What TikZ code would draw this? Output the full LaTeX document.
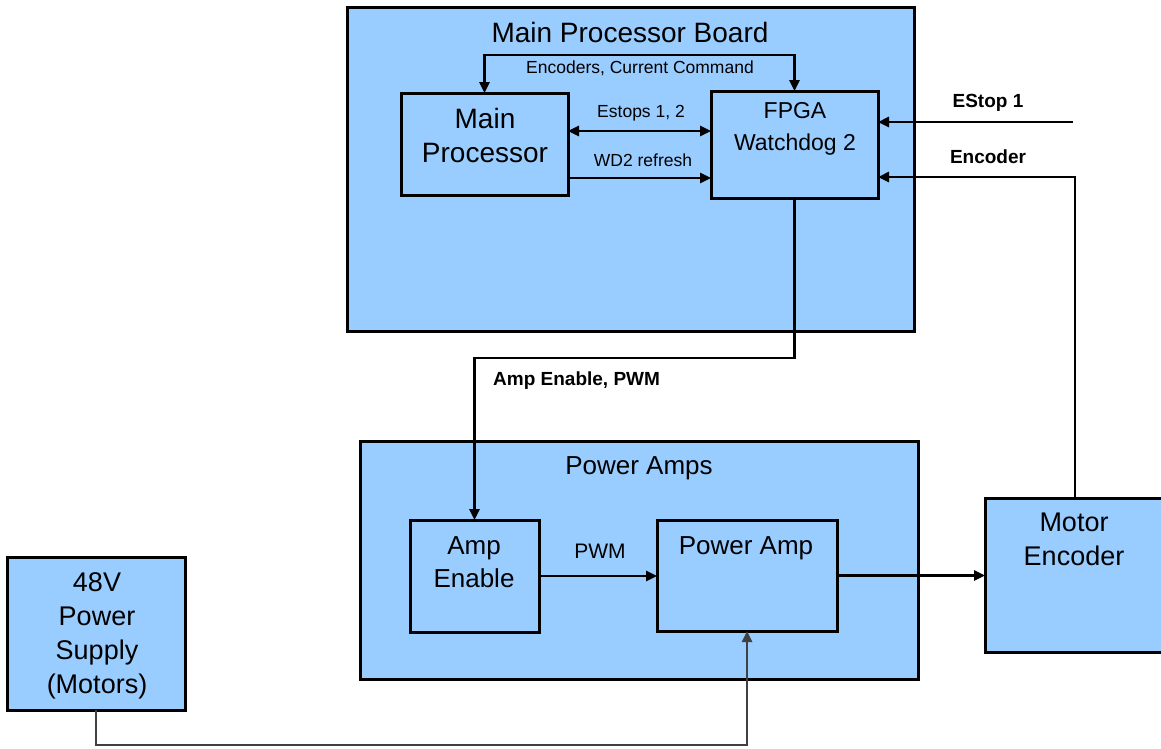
\documentclass[tikz,border=0pt]{standalone}
\usepackage{fontspec}
\setmainfont{Liberation Sans}
\usetikzlibrary{arrows.meta}
\definecolor{boxblue}{RGB}{153,204,255}
\tikzset{
  box/.style={draw=black, fill=boxblue, line width=3pt, rectangle, inner sep=0pt, outer sep=0pt, anchor=north west},
  txt/.style={inner sep=0pt, align=center, anchor=north},
  arr/.style={line width=2.5pt, -{Triangle[length=11pt,width=10pt]}},
  darr/.style={line width=2.5pt, {Triangle[length=11pt,width=10pt]}-{Triangle[length=11pt,width=10pt]}},
  lbl/.style={inner sep=0pt, anchor=base},
}
\newcommand{\fsz}[2]{\fontsize{#1}{#2}\selectfont}
\begin{document}
\begin{tikzpicture}[x=1pt,y=-1pt]
\useasboundingbox (0,0) rectangle (1161,748);
\clip (0,0) rectangle (1161,748);
% boxes
\node[box, minimum width=567pt, minimum height=324pt] (mpb) at (347,7) {};
\node[box, minimum width=167pt, minimum height=102pt] (mp) at (401,93) {};
\node[box, minimum width=167pt, minimum height=107pt] (fpga) at (711,91) {};
\node[box, minimum width=558pt, minimum height=238pt] (pab) at (360,441) {};
\node[box, minimum width=129pt, minimum height=112pt] (ae) at (410,520) {};
\node[box, minimum width=180pt, minimum height=111pt] (pa) at (657,520) {};
\node[box, minimum width=180pt, minimum height=154pt] (me) at (985,498) {};
\node[box, minimum width=178pt, minimum height=153pt] (ps) at (7,557) {};
% box texts
\node[txt, font=\fsz{28}{34}] (tmpb) at (630,22) {Main Processor Board};
\node[txt, font=\fsz{28}{34}] (tmp) at (485,108) {Main\\Processor};
\node[txt, font=\fsz{23}{32}] (tfpga) at (795,102) {FPGA\\Watchdog 2};
\node[txt, font=\fsz{26}{34}] (tpab) at (639,456) {Power Amps};
\node[txt, font=\fsz{26}{33}] (tae) at (474,536) {Amp\\Enable};
\node[txt, font=\fsz{26}{34}] (tpa) at (746,536) {Power Amp};
\node[txt, font=\fsz{27}{34}] (tme) at (1074,513) {Motor\\Encoder};
\node[txt, font=\fsz{27}{34}] (tps) at (97,572) {48V\\Power\\Supply\\(Motors)};
% connectors
\draw[darr] (mp.north) -- ++(0,-38) -| (fpga.north);
\draw[darr] ([yshift=13pt]mp.east) -- ([yshift=13pt]mp.east -| fpga.west);
\draw[arr] ([yshift=-34pt]mp.east) -- ([yshift=-34pt]mp.east -| fpga.west);
\coordinate (es) at (1073,122);
\draw[arr] (es) -- (es -| fpga.east);
\coordinate (encc) at (1075,177);
\draw[arr] (me.north) -- (encc) -- (encc -| fpga.east);
\draw[arr] (fpga.south) -- ++(0,160) -| (ae.north);
\draw[arr] (ae.east) -- (ae.east -| pa.west);
\draw[arr] (pa.east) -- (pa.east -| me.west);
\draw[arr, draw=black!75] (ps.south) -- ++(0,35) -| (pa.south);
% labels
\node[lbl, font=\fsz{17.5}{20}] (l1) at (640,73.5) {Encoders, Current Command};
\node[lbl, font=\fsz{17.5}{20}] (l2) at (641,117.5) {Estops 1, 2};
\node[lbl, font=\fsz{17.5}{20}] (l3) at (643,166.5) {WD2 refresh};
\node[lbl, font=\bfseries\fsz{19}{22}] (l4) at (988,107) {EStop 1};
\node[lbl, font=\bfseries\fsz{19}{22}] (l5) at (988,163) {Encoder};
\node[lbl, font=\bfseries\fsz{19}{22}, anchor=base west] (l6) at (493,385) {Amp Enable, PWM};
\node[lbl, font=\fsz{21}{24}] (l7) at (600,558.5) {PWM};
\end{tikzpicture}
\end{document}
